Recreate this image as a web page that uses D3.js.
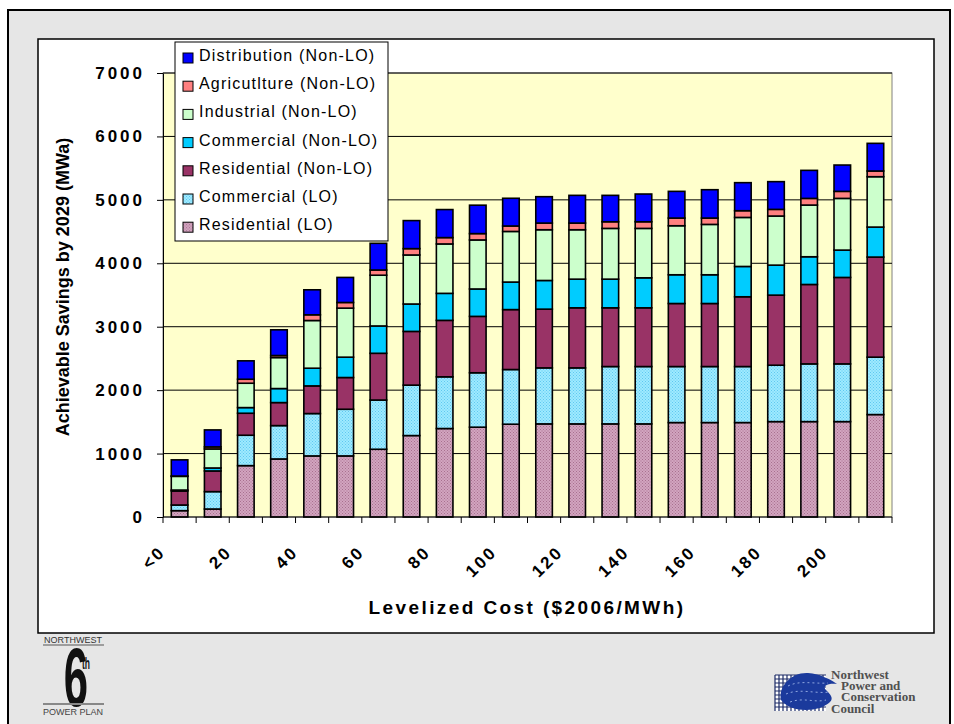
<!DOCTYPE html>
<html>
<head>
<meta charset="utf-8">
<script src="https://cdn.jsdelivr.net/npm/d3@7"></script>
<style>
  body { margin: 0; background: #fff; }
</style>
</head>
<body>
<svg id="chart" width="954" height="724" font-family="'Liberation Sans', Arial, sans-serif"></svg>
<script>
// levelized cost bins ($2006/MWh)
const categories = ["<0","10","20","30","40","50","60","70","80","90","100",
                    "110","120","130","140","150","160","170","180","190","200","210"];
const shownLabels = ["<0","20","40","60","80","100","120","140","160","180","200"];
const yTicks = [0,1000,2000,3000,4000,5000,6000,7000];

// MWa per bin, stacked bottom -> top
const residentialLO     = [100,126,810,915,963,963,1068,1284,1395,1416,1463,1468,1468,1468,1468,1489,1489,1489,1504,1504,1504,1615];
const commercialLO      = [89,274,479,526,668,736,776,795,815,858,862,883,883,904,904,883,883,883,889,910,910,905];
const residentialNonLO  = [221,326,347,363,436,500,737,847,890,889,945,926,947,926,926,994,994,1100,1105,1252,1363,1578];
const commercialNonLO   = [15,47,89,221,279,321,431,432,426,432,434,452,452,452,473,453,453,478,473,437,431,473];
const industrialNonLO   = [216,300,384,489,752,773,800,773,779,773,798,800,779,800,779,773,794,773,774,815,815,794];
const agricultureNonLO  = [5,32,63,32,90,89,82,100,100,100,86,105,105,105,105,121,100,106,105,105,111,90];
const distributionNonLO = [255,268,290,405,394,395,421,442,442,448,437,416,437,416,437,421,447,442,437,442,415,436];

const seriesNames = ["Residential (LO)","Commercial (LO)","Residential (Non-LO)","Commercial (Non-LO)",
                     "Industrial (Non-LO)","Agricutlture (Non-LO)","Distribution (Non-LO)"];
const seriesValues = [residentialLO, commercialLO, residentialNonLO, commercialNonLO,
                      industrialNonLO, agricultureNonLO, distributionNonLO];
const seriesFill = ["url(#patResLO)","url(#patComLO)","#993366","#00ccff","#ccffcc","#ff8080","#0000ff"];

const svg = d3.select("#chart");

// patterned fills for the LO series
const defs = svg.append("defs");
function dotPattern(id, base, dot) {
    var p = defs.append("pattern").attr("id", id)
        .attr("width", 3).attr("height", 3)
        .attr("patternUnits", "userSpaceOnUse");
    p.append("rect").attr("width", 3).attr("height", 3).attr("fill", base);
    p.append("rect").attr("width", 1).attr("height", 1).attr("fill", dot);
    p.append("rect").attr("x", 1.5).attr("y", 1.5).attr("width", 1).attr("height", 1).attr("fill", dot);
}
dotPattern("patResLO", "#d2a4bf", "#a8708f");
dotPattern("patComLO", "#9eeaff", "#5fc8f0");

// slide background + chart frame
svg.append("rect").attr("x", 8).attr("y", 10).attr("width", 942).attr("height", 730)
    .attr("fill", "#e6e6e6").attr("stroke", "#000").attr("stroke-width", 2);
svg.append("rect").attr("x", 38).attr("y", 39).attr("width", 896).attr("height", 594)
    .attr("fill", "#fff").attr("stroke", "#000").attr("stroke-width", 1.5);

const x = d3.scaleBand().domain(categories).range([163, 892])
    .paddingInner(0.5).paddingOuter(0.25);
const y = d3.scaleLinear().domain([0, 7000]).range([517, 73]);

// plot area
svg.append("rect").attr("x", 163).attr("y", y(7000))
    .attr("width", 892 - 163).attr("height", y(0) - y(7000))
    .attr("fill", "#ffffcc").attr("stroke", "#808080").attr("stroke-width", 1);

svg.append("g").selectAll("line").data(yTicks.filter(d => d > 0))
    .join("line")
    .attr("x1", 163).attr("x2", 892)
    .attr("y1", d => y(d)).attr("y2", d => y(d))
    .attr("stroke", "#000").attr("stroke-width", 1);

// stacked bars
var rows = categories.map((c, i) => {
    var r = { cat: c };
    seriesNames.forEach((s, k) => r[s] = seriesValues[k][i]);
    return r;
});
var stacked = d3.stack().keys(seriesNames)(rows);

svg.append("g").selectAll("g").data(stacked)
    .join("g")
    .attr("fill", (d, i) => seriesFill[i])
    .selectAll("rect").data(d => d)
    .join("rect")
    .attr("x", d => x(d.data.cat))
    .attr("width", x.bandwidth())
    .attr("y", d => y(d[1]))
    .attr("height", d => y(d[0]) - y(d[1]))
    .attr("stroke", "#000")
    .attr("stroke-width", 1.6);

// y axis
var yAxis = svg.append("g").attr("transform", "translate(163,0)")
    .call(d3.axisLeft(y).tickValues(yTicks).tickFormat(d3.format("d"))
        .tickSize(6).tickPadding(12).tickSizeOuter(0));
yAxis.select(".domain").attr("stroke", "#000");
yAxis.selectAll(".tick line").attr("stroke", "#000");
yAxis.selectAll("text")
    .attr("font-size", 17).attr("font-weight", "bold")
    .attr("letter-spacing", 3).attr("fill", "#000")
    .attr("font-family", "'Liberation Sans', Arial, sans-serif");

// x axis: ticks at bin boundaries, labels on every other bin
svg.append("line").attr("x1", 163).attr("x2", 892).attr("y1", 517).attr("y2", 517)
    .attr("stroke", "#000");
var bounds = d3.range(categories.length + 1).map(i => 163 + i * x.step());
svg.append("g").selectAll("line").data(bounds)
    .join("line")
    .attr("x1", d => d).attr("x2", d => d)
    .attr("y1", 517).attr("y2", 523)
    .attr("stroke", "#000");

svg.append("g").selectAll("text").data(shownLabels)
    .join("text")
    .attr("transform", d => "translate(" + (x(d) + x.bandwidth() / 2 - 13) + ",553) rotate(-45)")
    .attr("text-anchor", "end")
    .attr("font-size", 17).attr("font-weight", "bold")
    .attr("letter-spacing", 2.5)
    .text(d => d);

// axis titles
svg.append("text")
    .attr("x", 527).attr("y", 614)
    .attr("text-anchor", "middle")
    .attr("font-size", 19).attr("font-weight", "bold")
    .attr("letter-spacing", 2.4)
    .text("Levelized Cost ($2006/MWh)");

svg.append("text")
    .attr("transform", "translate(69,287) rotate(-90)")
    .attr("text-anchor", "middle")
    .attr("font-size", 18).attr("font-weight", "bold")
    .text("Achievable Savings by 2029 (MWa)");

// legend (top series first)
var legend = svg.append("g");
legend.append("rect").attr("x", 175).attr("y", 42).attr("width", 213).attr("height", 199)
    .attr("fill", "#fff").attr("stroke", "#000").attr("stroke-width", 1);
var order = d3.range(seriesNames.length).reverse();
var item = legend.selectAll("g.item").data(order)
    .join("g").attr("class", "item")
    .attr("transform", (d, i) => "translate(0," + (55 + i * 28.2) + ")");
item.append("rect")
    .attr("x", 183).attr("y", -2).attr("width", 10).attr("height", 10)
    .attr("fill", d => seriesFill[d]).attr("stroke", "#000").attr("stroke-width", 1);
item.append("text")
    .attr("x", 199).attr("y", 6)
    .attr("font-size", 16).attr("letter-spacing", 1.2)
    .text(d => seriesNames[d]);

// 6th power plan mark (bottom left)
var plan = svg.append("g");
plan.append("text").attr("x", 73).attr("y", 643).attr("text-anchor", "middle")
    .attr("font-size", 9).attr("fill", "#333").text("NORTHWEST");
plan.append("line").attr("x1", 43).attr("x2", 104).attr("y1", 645).attr("y2", 645)
    .attr("stroke", "#555").attr("stroke-width", 1);
plan.append("text").attr("transform", "translate(76,706) scale(0.52,1)")
    .attr("text-anchor", "middle").attr("font-size", 84).attr("font-weight", "bold")
    .attr("fill", "#111").text("6");
plan.append("text").attr("transform", "translate(86,669) scale(0.5,1)")
    .attr("text-anchor", "middle").attr("font-size", 17).attr("font-weight", "bold")
    .attr("fill", "#111").text("th");
plan.append("line").attr("x1", 43).attr("x2", 104).attr("y1", 704).attr("y2", 704)
    .attr("stroke", "#888").attr("stroke-width", 2);
plan.append("text").attr("x", 73).attr("y", 715).attr("text-anchor", "middle")
    .attr("font-size", 9).attr("fill", "#444").text("POWER PLAN");

// council mark (bottom right)
var council = svg.append("g");
council.append("rect").attr("x", 775).attr("y", 675).attr("width", 51).attr("height", 36)
    .attr("fill", "#fff");
council.append("g").selectAll("line").data(d3.range(0, 51, 4))
    .join("line")
    .attr("x1", d => 775 + d).attr("x2", d => 775 + d)
    .attr("y1", 675).attr("y2", 711)
    .attr("stroke", "#1c2a66").attr("stroke-width", 1.2);
council.append("g").selectAll("line").data(d3.range(0, 36, 4))
    .join("line")
    .attr("x1", 775).attr("x2", 826)
    .attr("y1", d => 675 + d).attr("y2", d => 675 + d)
    .attr("stroke", "#1c2a66").attr("stroke-width", 1.2);
council.append("path")
    .attr("d", "M781,700 C778,686 792,672 808,673 C820,674 832,680 837,684 C828,683 822,686 826,690 C830,694 834,698 830,702 C820,712 792,714 781,700 Z")
    .attr("fill", "#1b3a9c");
council.append("path")
    .attr("d", "M788,686 C800,680 812,684 828,683 M786,694 C800,688 814,694 830,692 M790,702 C804,697 814,703 826,700")
    .attr("fill", "none").attr("stroke", "#8fa6e0").attr("stroke-width", 1)
    .attr("stroke-dasharray", "2,3");
var cText = [["Northwest", 831, 679], ["Power and", 841, 690], ["Conservation", 841, 701], ["Council", 831, 713]];
council.selectAll("text").data(cText)
    .join("text")
    .attr("x", d => d[1]).attr("y", d => d[2])
    .attr("font-family", "'Liberation Serif', 'Times New Roman', serif")
    .attr("font-weight", "bold").attr("font-size", 13).attr("fill", "#505050")
    .text(d => d[0]);
</script>
</body>
</html>
